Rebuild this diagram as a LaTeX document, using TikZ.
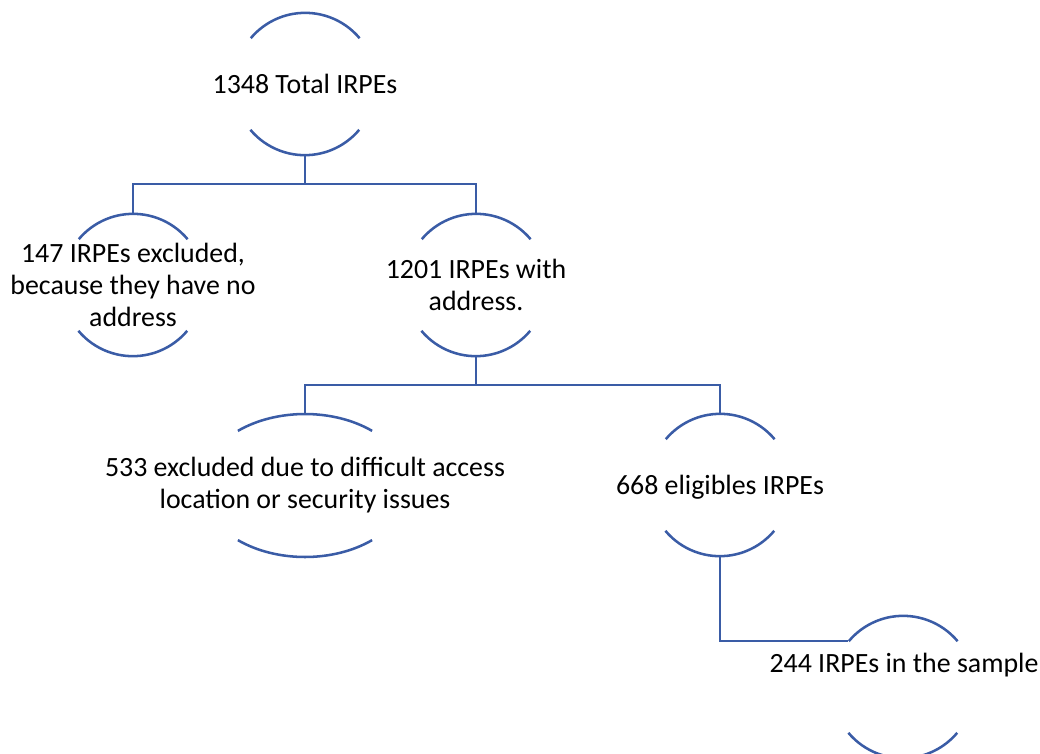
\documentclass[tikz,border=0pt]{standalone}
\usepackage{fontspec}
\setmainfont{Carlito}
\usetikzlibrary{shapes.geometric}
\definecolor{linkblue}{RGB}{58,92,166}
\tikzset{
  ring/.style={circle, minimum size=106.5pt, inner sep=0pt, draw=none},
  oval/.style={ellipse, minimum width=156pt, minimum height=107pt, inner sep=0pt, draw=none},
  label/.style={align=center, text=black, inner sep=0pt,
    font=\fontsize{20.9}{23.8}\selectfont},
  arcline/.style={draw=linkblue, line width=1.9pt},
  link/.style={draw=linkblue, line width=1.9pt}
}
\begin{document}
\begin{tikzpicture}[x=0.75pt, y=0.75pt]
\useasboundingbox (0,0) rectangle (1040,-754);
\clip (0,0) rectangle (1040,-754);

% outlines of the boxes (only top and bottom arcs are drawn)
\node[ring] (n1) at (305,-84) {};
\node[ring] (n2) at (133,-285) {};
\node[ring] (n3) at (476,-285) {};
\node[oval] (n4) at (305,-485.5) {};
\node[ring] (n5) at (720,-485) {};
\node[ring] (n6) at (903,-687) {};

\foreach \n in {n1,n2,n3,n5,n6}{
  \path[arcline] (\n.40) arc[start angle=40, end angle=140, radius=53.25pt];
  \path[arcline] (\n.220) arc[start angle=220, end angle=320, radius=53.25pt];
}
\path[arcline] ([shift={(49.8:104 and 71.5)}]n4.center)
  arc[start angle=49.8, end angle=130.2, x radius=78pt, y radius=53.6pt];
\path[arcline] ([shift={(229.8:104 and 71.5)}]n4.center)
  arc[start angle=229.8, end angle=310.2, x radius=78pt, y radius=53.6pt];

% texts
\node[label] (t1) at (305,-84) {1348 Total IRPEs};
\node[label] (t2) at (133,-285) {147 IRPEs excluded,\\because they have no\\address};
\node[label] (t3) at (476,-285) {1201 IRPEs with\\address.};
\node[label] (t4) at (305,-485) {533 excluded due to difficult access\\location or security issues};
\node[label] (t5) at (720,-487) {668 eligibles IRPEs};
\node[label] (t6) at (904,-665) {244 IRPEs in the sample};

% connectors
\coordinate (j1) at (305,-184);
\coordinate (j2) at (476,-385);
\path[link] (n1.south) -- (j1);
\path[link] (n2.north) |- (j1) -| (n3.north);
\path[link] (n3.south) -- (j2);
\path[link] (n4.north) |- (j2) -| (n5.north);
\path[link] (n5.south) |- (n6.140);
\end{tikzpicture}
\end{document}
